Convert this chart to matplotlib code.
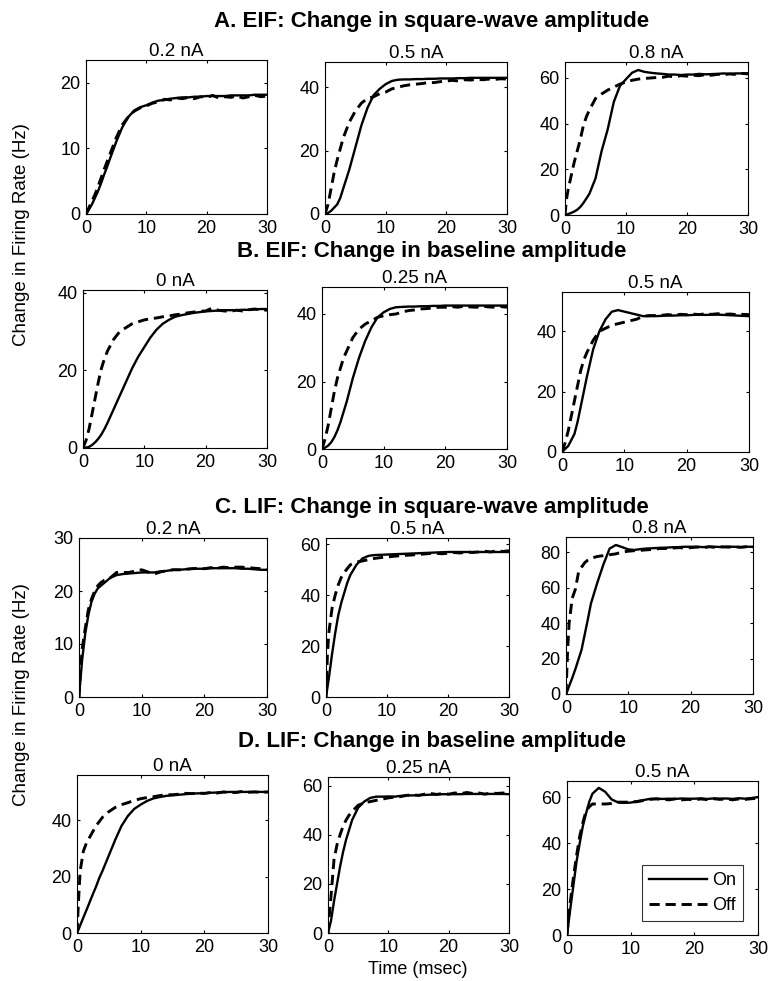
import matplotlib
matplotlib.use('Agg')
import matplotlib.pyplot as plt
from matplotlib.lines import Line2D


plt.rcParams['font.family'] = ['Liberation Sans', 'DejaVu Sans']

# Time axis (msec), shared by every panel
time_ms = [0, 0.25, 0.5, 1, 1.5, 2, 2.5, 3, 3.5, 4, 5, 6, 7, 8, 9,
           10, 11, 12, 13, 14, 15, 16, 17, 18, 19, 20,
           21, 22, 23, 24, 25, 26, 27, 28, 29, 30]

# A. EIF, change in square-wave amplitude
eif_sq_02_on = [0, 0.3, 0.7, 1.5, 2.5, 3.5, 4.7, 6.0, 7.2, 8.5, 11.0, 13.2, 14.8, 15.8, 16.3,
                16.6, 17.0, 17.3, 17.4, 17.6, 17.7, 17.8, 17.8, 17.9, 17.9, 18.0,
                18.0, 18.0, 18.0, 18.1, 18.1, 18.1, 18.1, 18.2, 18.2, 18.2]
eif_sq_02_off = [0, 0.5, 1.0, 2.0, 3.0, 4.2, 5.5, 6.8, 8.0, 9.2, 11.6, 13.6, 14.8, 15.7, 16.2,
                 16.5, 16.9, 17.1, 17.5, 17.4, 17.7, 17.6, 17.8, 17.6, 17.9, 17.8,
                 18.1, 17.7, 17.9, 17.8, 18.0, 17.7, 17.9, 18.1, 17.9, 18.0]
eif_sq_05_on = [0, 0.1, 0.3, 1.0, 2.0, 3.0, 5.0, 8.0, 11.0, 14.0, 21.0, 28.0, 33.5, 37.5, 39.5,
                41.0, 42.0, 42.4, 42.5, 42.5, 42.6, 42.6, 42.7, 42.7, 42.8, 42.8,
                42.8, 42.9, 42.9, 43.0, 43.0, 43.0, 43.0, 43.0, 43.0, 43.0]
eif_sq_05_off = [0, 1.5, 3.0, 8.0, 13.0, 17.0, 20.5, 24.0, 26.5, 29.0, 32.5, 35.0, 36.5, 37.0, 38.0,
                 38.5, 39.5, 40.0, 40.5, 40.8, 41.0, 41.2, 41.5, 41.5, 41.8, 42.0,
                 42.2, 42.0, 42.4, 42.3, 42.5, 42.4, 42.6, 42.5, 42.7, 42.6]
eif_sq_08_on = [0, 0.2, 0.4, 0.9, 1.5, 2.3, 3.5, 5.2, 7.2, 9.3, 16.0, 28.0, 37.5, 49.5, 56.5,
                59.5, 62.3, 63.5, 62.7, 62.3, 62.0, 61.8, 61.5, 61.5, 61.3, 61.5,
                61.5, 61.8, 61.6, 61.7, 61.8, 62.0, 61.8, 62.0, 62.0, 62.0]
eif_sq_08_off = [0, 7.0, 11.0, 17.0, 23.0, 28.0, 33.0, 39.0, 43.0, 46.0, 51.0, 53.0, 54.7, 56.0, 57.3,
                 58.3, 59.0, 59.5, 59.8, 60.0, 60.2, 60.3, 60.8, 60.5, 61.0, 60.8,
                 61.2, 61.0, 61.5, 61.2, 61.6, 61.4, 61.8, 61.5, 62.0, 61.8]

# B. EIF, change in baseline amplitude
eif_base_0_on = [0, 0.05, 0.1, 0.3, 0.8, 1.5, 2.4, 3.5, 4.9, 6.5, 10.0, 13.5, 17.0, 20.5, 23.5,
                 26.0, 28.5, 30.5, 32.0, 33.0, 33.8, 34.2, 34.5, 34.8, 35.0, 35.2,
                 35.3, 35.4, 35.5, 35.5, 35.5, 35.6, 35.6, 35.7, 35.8, 35.8]
eif_base_0_off = [0, 1.0, 2.0, 5.0, 9.0, 13.0, 17.0, 20.5, 23.0, 25.0, 28.0, 30.0, 31.0, 32.0, 32.5,
                  33.0, 33.3, 33.5, 33.8, 34.0, 34.3, 34.5, 34.8, 35.0, 35.2, 35.3,
                  36.0, 35.5, 35.3, 35.2, 35.5, 35.3, 35.6, 35.8, 35.6, 35.5]
eif_base_025_on = [0, 0.2, 0.4, 1.0, 2.0, 3.5, 5.5, 8.0, 11.0, 14.0, 21.0, 27.0, 32.0, 36.0, 39.0,
                   40.5, 41.5, 42.0, 42.1, 42.2, 42.2, 42.3, 42.3, 42.4, 42.4, 42.5,
                   42.5, 42.5, 42.5, 42.5, 42.5, 42.5, 42.5, 42.5, 42.5, 42.5]
eif_base_025_off = [0, 1.5, 3.0, 7.0, 12.0, 17.0, 21.0, 24.0, 27.0, 29.0, 33.0, 35.5, 37.0, 38.0, 39.0,
                    39.5, 39.8, 40.0, 40.6, 41.0, 41.2, 41.5, 41.6, 41.8, 42.0, 42.0,
                    42.2, 42.0, 42.3, 42.1, 42.0, 42.3, 42.1, 42.0, 42.2, 42.0]
eif_base_05_on = [0, 0.5, 1.0, 2.0, 4.0, 6.0, 10.0, 15.0, 20.0, 25.0, 34.0, 40.0, 44.0, 46.5, 47.0,
                  46.5, 46.0, 45.5, 45.0, 45.0, 45.0, 45.1, 45.2, 45.2, 45.3, 45.3,
                  45.4, 45.5, 45.4, 45.5, 45.5, 45.4, 45.3, 45.2, 45.1, 45.0]
eif_base_05_off = [0, 1.5, 3.0, 7.0, 12.0, 17.0, 22.0, 27.0, 30.5, 33.0, 37.0, 40.0, 41.0, 42.0, 42.5,
                   43.0, 43.5, 44.0, 45.0, 45.2, 45.2, 45.3, 45.5, 45.3, 45.6, 45.5,
                   45.7, 45.5, 45.8, 45.6, 45.8, 45.6, 45.7, 45.5, 45.6, 45.5]

# C. LIF, change in square-wave amplitude
lif_sq_02_on = [0, 3.5, 7.0, 12.0, 15.5, 18.0, 19.5, 20.5, 21.0, 21.5, 22.5, 23.0, 23.2, 23.3, 23.4,
                23.5, 23.5, 23.5, 23.7, 23.8, 24.0, 24.0, 24.1, 24.2, 24.2, 24.2,
                24.3, 24.3, 24.3, 24.3, 24.3, 24.2, 24.2, 24.1, 24.0, 24.0]
lif_sq_02_off = [0, 5.0, 9.0, 13.0, 16.5, 18.5, 20.0, 21.0, 21.6, 22.0, 22.5, 23.5, 23.5, 23.5, 23.8,
                 24.0, 23.6, 23.2, 23.6, 23.8, 24.0, 24.0, 24.1, 24.2, 24.3, 24.2,
                 24.4, 24.3, 24.5, 24.4, 24.5, 24.5, 24.4, 24.3, 24.2, 24.0]
lif_sq_05_on = [0, 4.0, 8.0, 17.0, 25.0, 32.0, 37.0, 41.0, 45.0, 48.0, 52.0, 54.5, 55.5, 55.8, 55.9,
                56.0, 56.1, 56.2, 56.3, 56.4, 56.5, 56.6, 56.7, 56.8, 56.9, 57.0,
                57.0, 57.0, 57.0, 57.0, 57.0, 57.0, 57.0, 57.0, 57.0, 57.0]
lif_sq_05_off = [0, 18.0, 26.0, 35.0, 40.0, 44.0, 47.0, 49.0, 50.5, 52.0, 53.0, 53.5, 54.0, 54.5, 54.8,
                 55.0, 55.3, 55.5, 55.7, 55.8, 56.0, 56.2, 56.4, 56.5, 56.3, 56.5,
                 56.8, 56.6, 57.0, 56.8, 57.0, 57.3, 57.0, 57.5, 57.2, 57.5]
lif_sq_08_on = [0, 2.0, 4.5, 9.0, 14.0, 19.5, 25.0, 33.5, 42.0, 51.0, 62.5, 73.0, 82.0, 84.0, 82.8,
                81.5, 81.2, 81.7, 82.0, 82.2, 82.4, 82.5, 82.7, 82.8, 83.0, 83.0,
                83.0, 82.8, 83.0, 83.0, 82.8, 83.0, 83.0, 82.8, 83.0, 83.0]
lif_sq_08_off = [0, 24.0, 40.0, 54.0, 59.0, 68.5, 71.5, 74.0, 75.5, 76.5, 77.5, 78.0, 78.5, 79.0, 80.0,
                 80.5, 80.8, 81.0, 81.3, 81.5, 82.0, 82.0, 82.2, 82.5, 82.3, 82.5,
                 82.8, 82.5, 83.0, 82.6, 83.0, 82.8, 83.0, 82.7, 83.0, 82.8]

# D. LIF, change in baseline amplitude
lif_base_0_on = [0, 1.3, 2.7, 5.5, 8.2, 11.0, 13.8, 16.5, 19.5, 22.0, 27.5, 33.0, 38.0, 41.5, 44.0,
                 45.5, 46.8, 47.7, 48.2, 48.6, 48.8, 49.0, 49.2, 49.4, 49.5, 49.5,
                 49.7, 49.8, 49.9, 50.0, 50.0, 50.0, 50.0, 50.0, 50.0, 50.0]
lif_base_0_off = [0, 12.0, 22.0, 29.0, 32.0, 34.0, 36.0, 38.0, 39.5, 41.0, 43.0, 44.5, 45.5, 46.2, 47.0,
                  47.6, 48.0, 48.3, 48.7, 49.0, 49.0, 49.2, 49.5, 49.4, 49.6, 49.5,
                  49.8, 49.6, 50.0, 49.8, 49.8, 50.2, 49.9, 50.0, 49.8, 50.0]
lif_base_025_on = [0, 2.5, 5.0, 13.0, 20.0, 27.0, 33.0, 38.0, 42.0, 46.0, 51.0, 53.5, 55.0, 55.5, 55.5,
                   55.6, 55.5, 55.8, 56.0, 56.0, 56.1, 56.2, 56.3, 56.4, 56.5, 56.5,
                   56.5, 56.5, 56.6, 56.6, 56.6, 56.6, 56.6, 56.6, 56.6, 56.5]
lif_base_025_off = [0, 8.0, 15.0, 30.0, 36.0, 40.0, 43.5, 46.0, 48.0, 49.5, 52.0, 53.0, 53.5, 54.0, 54.5,
                    55.0, 55.3, 55.5, 56.0, 56.3, 56.0, 56.5, 56.8, 56.4, 56.8, 56.5,
                    57.0, 56.7, 57.2, 56.8, 57.0, 56.5, 57.0, 56.8, 57.0, 56.5]
lif_base_05_on = [0, 5.5, 11.0, 21.5, 32.0, 40.0, 47.5, 53.0, 58.0, 61.5, 64.0, 62.3, 59.0, 57.7, 57.5,
                  57.6, 58.2, 58.7, 59.2, 59.3, 59.2, 59.3, 59.2, 59.4, 59.3, 59.3,
                  59.4, 59.2, 59.4, 59.3, 59.4, 59.2, 59.5, 59.3, 59.6, 60.0]
lif_base_05_off = [0, 8.0, 14.0, 25.0, 34.5, 43.0, 49.0, 54.0, 55.8, 57.0, 57.0, 57.0, 57.2, 57.8, 57.8,
                   57.8, 58.0, 58.5, 59.0, 59.2, 59.0, 58.8, 59.2, 58.8, 59.0, 58.8,
                   59.2, 58.9, 59.3, 59.0, 59.2, 58.8, 59.2, 59.0, 59.3, 59.5]

panel_titles = ['0.2 nA', '0.5 nA', '0.8 nA',
                '0 nA', '0.25 nA', '0.5 nA',
                '0.2 nA', '0.5 nA', '0.8 nA',
                '0 nA', '0.25 nA', '0.5 nA']
on_series = [eif_sq_02_on, eif_sq_05_on, eif_sq_08_on,
             eif_base_0_on, eif_base_025_on, eif_base_05_on,
             lif_sq_02_on, lif_sq_05_on, lif_sq_08_on,
             lif_base_0_on, lif_base_025_on, lif_base_05_on]
off_series = [eif_sq_02_off, eif_sq_05_off, eif_sq_08_off,
              eif_base_0_off, eif_base_025_off, eif_base_05_off,
              lif_sq_02_off, lif_sq_05_off, lif_sq_08_off,
              lif_base_0_off, lif_base_025_off, lif_base_05_off]
y_tops = [23.5, 48, 67, 40.7, 48, 53, 30, 62.5, 88.5, 56, 63.5, 67]
y_ticks = [[0, 10, 20], [0, 20, 40], [0, 20, 40, 60],
           [0, 20, 40], [0, 20, 40], [0, 20, 40],
           [0, 10, 20, 30], [0, 20, 40, 60], [0, 20, 40, 60, 80],
           [0, 20, 40], [0, 20, 40, 60], [0, 20, 40, 60]]
x_ticks = [0, 10, 20, 30]

section_titles = ['A. EIF: Change in square-wave amplitude',
                  'B. EIF: Change in baseline amplitude',
                  'C. LIF: Change in square-wave amplitude',
                  'D. LIF: Change in baseline amplitude']

# axes boxes in pixels: left, top, right, bottom
boxes = [(86, 60, 267, 214), (325, 62, 507, 214), (565, 62, 748, 215),
         (83, 290, 267, 448), (322, 287, 507, 449), (562, 292, 749, 452),
         (79, 538, 267, 697), (326, 538, 509, 697), (566, 537, 753, 694),
         (77, 775, 268, 933), (328, 777, 509, 933), (567, 781, 758, 935)]
section_y = [21, 252, 507, 742]

W, H = 768, 981
fig = plt.figure(figsize=(W / 100, H / 100), dpi=100)
fig.patch.set_facecolor('white')

axes = []
for i in range(12):
    l, t, r, b = boxes[i]
    ax = fig.add_axes([l / W, 1 - b / H, (r - l) / W, (b - t) / H])
    ax.plot(time_ms, on_series[i], color='black', lw=1.7, solid_joinstyle='round')
    ax.plot(time_ms, off_series[i], color='black', lw=2.1, dashes=(3.5, 2.0))
    ax.set_xlim(0, 30)
    ax.set_ylim(0, y_tops[i])
    ax.set_xticks(x_ticks)
    ax.set_yticks(y_ticks[i])
    ax.tick_params(direction='in', length=2.5, width=0.8, top=True, right=True,
                   labelsize=13, pad=4)
    for sp in ax.spines.values():
        sp.set_linewidth(0.8)
    ax.set_title(panel_titles[i], fontsize=13.5, pad=3)
    axes.append(ax)

for k, txt in enumerate(section_titles):
    fig.text(432 / W, 1 - section_y[k] / H, txt, ha='center', va='center',
             fontsize=16, fontweight='bold')

fig.text(22 / W, 1 - 235 / H, 'Change in Firing Rate (Hz)', rotation=90,
         ha='center', va='center', fontsize=13.5)
fig.text(22 / W, 1 - 695 / H, 'Change in Firing Rate (Hz)', rotation=90,
         ha='center', va='center', fontsize=13.5)
fig.text(418 / W, 1 - 969 / H, 'Time (msec)', ha='center', va='center', fontsize=13)

handles = [Line2D([], [], color='black', lw=1.7),
           Line2D([], [], color='black', lw=2.1, dashes=(3.5, 2.0))]
leg = axes[11].legend(handles, ['On', 'Off'], loc='lower right',
                      bbox_to_anchor=(0.97, 0.03), fontsize=13, frameon=True,
                      fancybox=False, edgecolor='black', handlelength=3.2,
                      handletextpad=0.3, labelspacing=0.45, borderpad=0.4)
leg.get_frame().set_linewidth(0.8)

fig.savefig('out.png', dpi=100, facecolor='white')
